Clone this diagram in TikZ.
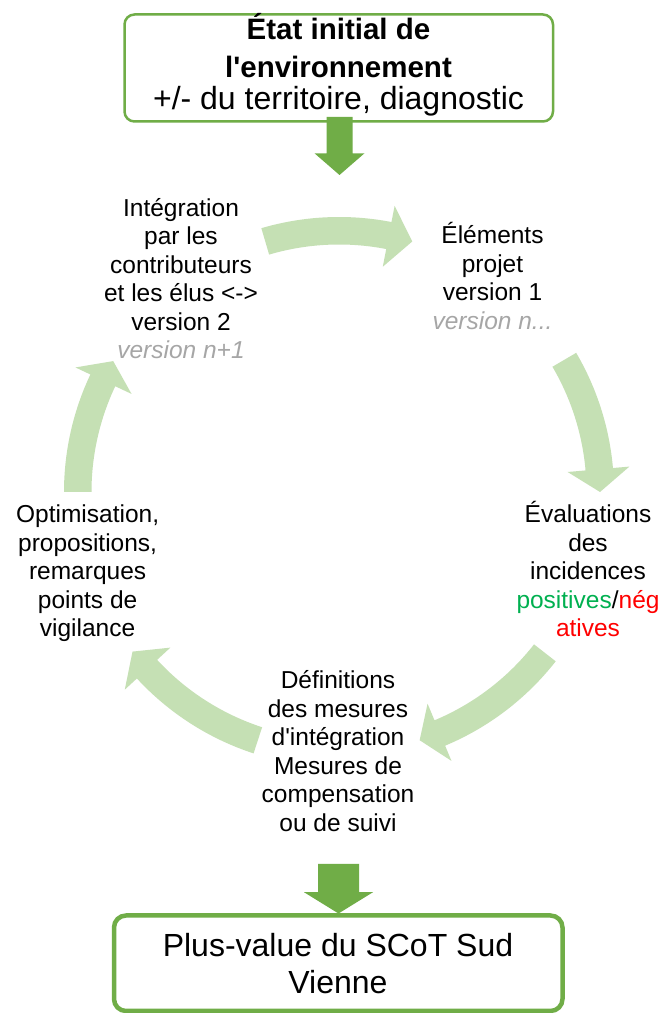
\documentclass[tikz,border=0pt]{standalone}
\usepackage{fontspec}
\setmainfont{Liberation Sans}
\usetikzlibrary{calc}
\definecolor{darkg}{HTML}{70AD47}
\definecolor{lightg}{HTML}{C5E0B4}
\definecolor{greytxt}{HTML}{A6A6A6}
\definecolor{posg}{HTML}{00B050}
\definecolor{negr}{HTML}{FF0000}
\newcommand\cycarrow[3]{%
  \fill[lightg] (#1:275pt) arc[start angle=#1, end angle=#2, radius=275pt]
    -- (#2:291.5pt) -- (#3:261pt) -- (#2:229.5pt) -- (#2:247.5pt)
    arc[start angle=#2, end angle=#1, radius=247.5pt] -- cycle;}
\newcommand\vblockarrow[5]{%
  \fill[darkg] ($(#1)+(-#3,0)$) -- ($(#1)+(#3,0)$) -- ($(#2)+(#3,#5)$) -- ($(#2)+(#4,#5)$)
    -- (#2) -- ($(#2)+(-#4,#5)$) -- ($(#2)+(-#3,#5)$) -- cycle;}
\begin{document}
\begin{tikzpicture}[x=1pt,y=1pt,
  boxstyle/.style={draw=darkg, rounded corners=10pt, outer sep=0pt, inner sep=0pt},
  cyc/.style={anchor=base, align=center, inner sep=0pt, font=\fontsize{24.5}{28.5}\selectfont}]
\fill[white] (0,0) rectangle (659,1013);
\useasboundingbox (0,0) rectangle (659,1013);
% boxes
\node[boxstyle, line width=2.5pt, minimum width=428.5pt, minimum height=107pt] (topbox) at (338.75,945) {};
\node[boxstyle, line width=4.5pt, minimum width=448.5pt, minimum height=95.5pt, rounded corners=12pt] (botbox) at (338.25,49.75) {};
% box texts (anchor=base is the baseline of the last line)
\node[anchor=base, align=center, inner sep=0pt, font=\fontsize{32}{32}\selectfont] (toptext) at (338.5,903)
  {{\fontsize{29.5}{32}\selectfont\bfseries État initial de}\\[6.7pt]{\fontsize{29.5}{32}\selectfont\bfseries l\textquotesingle environnement}\\+/- du territoire, diagnostic};
\node[anchor=base, align=center, inner sep=0pt, font=\fontsize{32}{36.6}\selectfont] (bottext) at (338,19.7)
  {Plus-value du SCoT Sud\\Vienne};
% dark arrows
\coordinate (a1s) at ($(topbox.south)+(0.75,4.5)$);
\coordinate (a1e) at (339.5,838);
\vblockarrow{a1s}{a1e}{13}{25}{21.7}
\coordinate (a2s) at (338.5,149);
\coordinate (a2e) at ($(botbox.north)+(0.25,2)$);
\vblockarrow{a2s}{a2e}{20.5}{34.5}{21.3}
% cycle arrows
\begin{scope}[shift={(339,521)}]
\cycarrow{106.4}{79}{73.7}
\cycarrow{30.4}{5}{0}
\cycarrow{-38}{-67.3}{-72}
\cycarrow{-108.1}{-137.3}{-142.3}
\cycarrow{180}{154.7}{149.9}
\end{scope}
% cycle texts
\node[cyc] (integ) at (181,654) {Intégration\\par les\\contributeurs\\et les élus <->\\version 2\\{\color{greytxt}\itshape version n+1}};
\node[cyc] (elem) at (492.5,683.5) {Éléments\\projet\\version 1\\{\color{greytxt}\itshape version n...}};
\node[cyc] (evalu) at (588,376) {Évaluations\\des\\incidences\\{\color{posg}positives}/{\color{negr}nég}\\{\color{negr}atives}};
\node[cyc] (optim) at (87.6,376) {Optimisation,\\propositions,\\remarques\\points de\\vigilance};
\node[cyc] (defin) at (338,181.5) {Définitions\\des mesures\\d\textquotesingle intégration\\Mesures de\\compensation\\ou de suivi};
\end{tikzpicture}
\end{document}
